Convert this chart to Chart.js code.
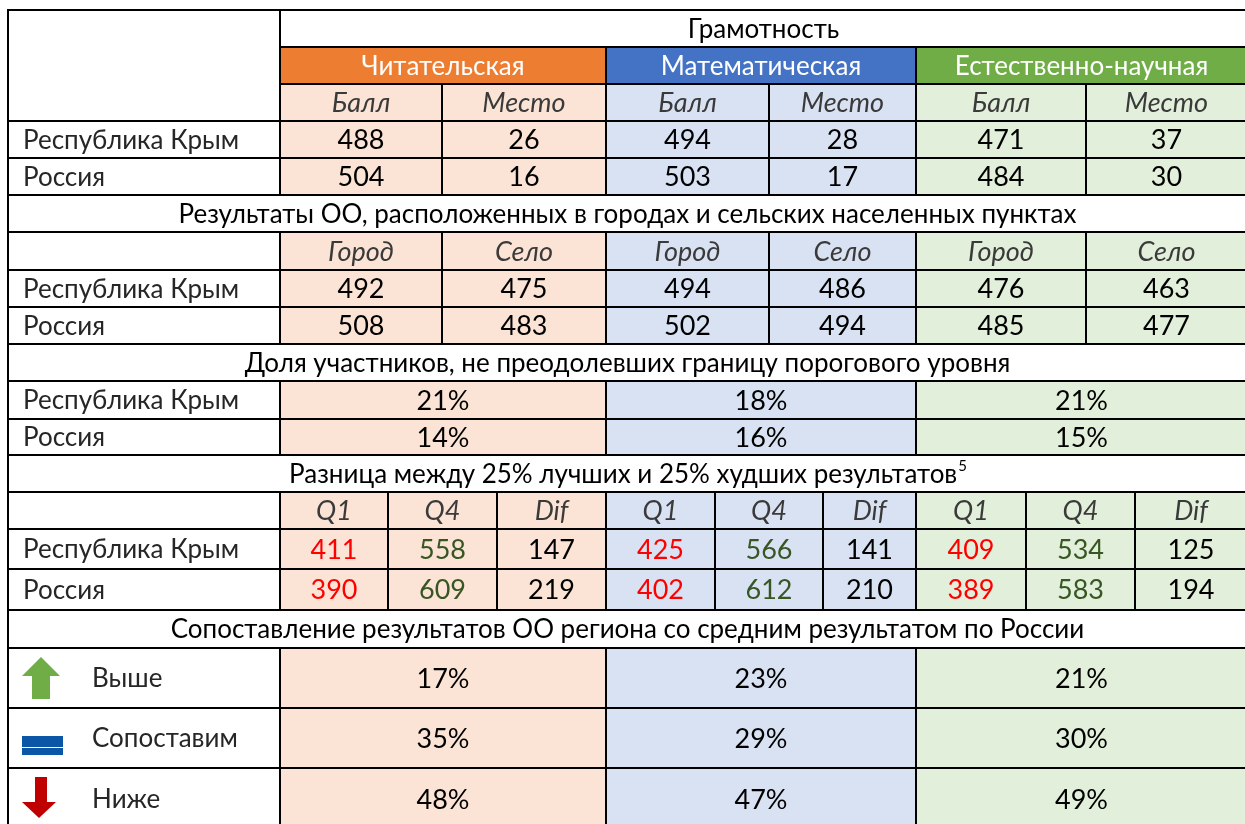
<!DOCTYPE html>
<html lang="ru">
<head>
<meta charset="utf-8">
<script src="https://cdn.jsdelivr.net/npm/chart.js@4"></script>
<style>
html, body { margin: 0; padding: 0; background: #fff; }
#wrap { width: 1245px; height: 824px; position: relative; }
</style>
</head>
<body>
<div id="wrap"><canvas id="tableChart"></canvas></div>
<script>
// --- данные таблицы ---
const title = 'Грамотность';
const subjects = ['Читательская', 'Математическая', 'Естественно-научная'];
const regions = ['Республика Крым', 'Россия'];
const scoreCols = ['Балл', 'Место'];
const areaCols = ['Город', 'Село'];
const quartCols = ['Q1', 'Q4', 'Dif'];
const sections = [
    'Результаты ОО, расположенных в городах и сельских населенных пунктах',
    'Доля участников, не преодолевших границу порогового уровня',
    'Разница между 25% лучших и 25% худших результатов',
    'Сопоставление результатов ОО региона со средним результатом по России'
];
const footnote = '5';
// по регионам: [читательская, математическая, естественно-научная]
const score = [[488, 494, 471], [504, 503, 484]];
const place = [[26, 28, 37], [16, 17, 30]];
const city = [[492, 494, 476], [508, 502, 485]];
const village = [[475, 486, 463], [483, 494, 477]];
const belowLevel = [[21, 18, 21], [14, 16, 15]];
const q1 = [[411, 425, 409], [390, 402, 389]];
const q4 = [[558, 566, 534], [609, 612, 583]];
const dif = [[147, 141, 125], [219, 210, 194]];
const compareCats = ['Выше', 'Сопоставим', 'Ниже'];
const compare = [[17, 23, 21], [35, 29, 30], [48, 47, 49]];

// --- разметка (сетка таблицы) ---
const left = 8, labelRight = 280;
const subjX = [280, 606, 916, 1247];
const pairX = [442, 769, 1086];
const tripleX = [[388, 497], [715, 823], [1026, 1135]];
const rowY = [10, 47, 84, 121, 158, 195, 232, 270, 307, 344, 381, 419, 455, 492, 529, 569, 610, 648, 708, 768, 830];

const headColors = ['#ED7D31', '#4472C4', '#70AD47'];
const lightColors = ['#FBE4D5', '#D9E2F3', '#E2EFDA'];
const FONT = 'Lato, "Open Sans", sans-serif';

// собираем ячейки
const cells = [];
function cell(x0, x1, r0, r1, fill, text, style) {
    cells.push({ x0, x1, y0: rowY[r0], y1: rowY[r1], fill, text, style: style || {} });
}
const num = { size: 27, color: '#000' };
const lbl = { size: 26, color: '#262626', align: 'left' };
const ital = { size: 27, color: '#3a3a3a', italic: true };
const head = { size: 26, color: '#000' };

// шапка
cell(left, labelRight, 0, 3, '#fff', '');
cell(labelRight, subjX[3], 0, 1, '#fff', title, head);
subjects.forEach((s, i) => {
    cell(subjX[i], subjX[i + 1], 1, 2, headColors[i], s, { size: 26, color: '#fff' });
    cell(subjX[i], pairX[i], 2, 3, lightColors[i], scoreCols[0], ital);
    cell(pairX[i], subjX[i + 1], 2, 3, lightColors[i], scoreCols[1], ital);
});
// балл и место
regions.forEach((r, k) => {
    cell(left, labelRight, 3 + k, 4 + k, '#fff', r, lbl);
    subjects.forEach((s, i) => {
        cell(subjX[i], pairX[i], 3 + k, 4 + k, lightColors[i], String(score[k][i]), num);
        cell(pairX[i], subjX[i + 1], 3 + k, 4 + k, lightColors[i], String(place[k][i]), num);
    });
});
// город / село
cell(left, subjX[3], 5, 6, '#fff', sections[0], head);
cell(left, labelRight, 6, 7, '#fff', '');
subjects.forEach((s, i) => {
    cell(subjX[i], pairX[i], 6, 7, lightColors[i], areaCols[0], ital);
    cell(pairX[i], subjX[i + 1], 6, 7, lightColors[i], areaCols[1], ital);
});
regions.forEach((r, k) => {
    cell(left, labelRight, 7 + k, 8 + k, '#fff', r, lbl);
    subjects.forEach((s, i) => {
        cell(subjX[i], pairX[i], 7 + k, 8 + k, lightColors[i], String(city[k][i]), num);
        cell(pairX[i], subjX[i + 1], 7 + k, 8 + k, lightColors[i], String(village[k][i]), num);
    });
});
// доля ниже порога
cell(left, subjX[3], 9, 10, '#fff', sections[1], head);
regions.forEach((r, k) => {
    cell(left, labelRight, 10 + k, 11 + k, '#fff', r, lbl);
    subjects.forEach((s, i) => {
        cell(subjX[i], subjX[i + 1], 10 + k, 11 + k, lightColors[i], belowLevel[k][i] + '%', num);
    });
});
// квартили
cell(left, subjX[3], 12, 13, '#fff', sections[2], Object.assign({ sup: footnote }, head));
cell(left, labelRight, 13, 14, '#fff', '');
subjects.forEach((s, i) => {
    const xs = [subjX[i], tripleX[i][0], tripleX[i][1], subjX[i + 1]];
    quartCols.forEach((q, j) => cell(xs[j], xs[j + 1], 13, 14, lightColors[i], q, ital));
});
regions.forEach((r, k) => {
    cell(left, labelRight, 14 + k, 15 + k, '#fff', r, lbl);
    subjects.forEach((s, i) => {
        const xs = [subjX[i], tripleX[i][0], tripleX[i][1], subjX[i + 1]];
        cell(xs[0], xs[1], 14 + k, 15 + k, lightColors[i], String(q1[k][i]), { size: 27, color: '#FF0000' });
        cell(xs[1], xs[2], 14 + k, 15 + k, lightColors[i], String(q4[k][i]), { size: 27, color: '#375623' });
        cell(xs[2], xs[3], 14 + k, 15 + k, lightColors[i], String(dif[k][i]), num);
    });
});
// сопоставление
cell(left, subjX[3], 16, 17, '#fff', sections[3], head);
compareCats.forEach((c, k) => {
    cell(left, labelRight, 17 + k, 18 + k, '#fff', c, Object.assign({ icon: k, indent: 69 }, lbl));
    subjects.forEach((s, i) => {
        cell(subjX[i], subjX[i + 1], 17 + k, 18 + k, lightColors[i], compare[k][i] + '%', num);
    });
});

function drawIcon(ctx, kind, px, py, x0, yMid) {
    ctx.save();
    if (kind === 0) {
        ctx.fillStyle = '#70AD47';
        ctx.beginPath();
        ctx.moveTo(px(x0 + 14), py(yMid - 21));
        ctx.lineTo(px(x0 + 33), py(yMid - 2));
        ctx.lineTo(px(x0 + 23), py(yMid - 2));
        ctx.lineTo(px(x0 + 23), py(yMid + 21));
        ctx.lineTo(px(x0 + 5), py(yMid + 21));
        ctx.lineTo(px(x0 + 5), py(yMid - 2));
        ctx.lineTo(px(x0 - 5), py(yMid - 2));
        ctx.closePath();
        ctx.fill();
    } else if (kind === 1) {
        ctx.fillStyle = '#0B56A6';
        ctx.fillRect(px(x0 - 5), py(yMid - 2), px(x0 + 36) - px(x0 - 5), py(yMid + 9) - py(yMid - 2));
        ctx.fillRect(px(x0 - 5), py(yMid + 10), px(x0 + 36) - px(x0 - 5), py(yMid + 17) - py(yMid + 10));
    } else {
        ctx.fillStyle = '#C00000';
        ctx.beginPath();
        ctx.moveTo(px(x0 + 8), py(yMid - 22));
        ctx.lineTo(px(x0 + 20), py(yMid - 22));
        ctx.lineTo(px(x0 + 20), py(yMid + 3));
        ctx.lineTo(px(x0 + 29), py(yMid + 3));
        ctx.lineTo(px(x0 + 12), py(yMid + 19));
        ctx.lineTo(px(x0 - 5), py(yMid + 3));
        ctx.lineTo(px(x0 + 8), py(yMid + 3));
        ctx.closePath();
        ctx.fill();
    }
    ctx.restore();
}

// плагин: рисует ячейки через шкалы графика
const tablePlugin = {
    id: 'tablePlugin',
    afterDraw(chart) {
        const ctx = chart.ctx;
        const sx = chart.scales.x, sy = chart.scales.y;
        const px = v => sx.getPixelForValue(v);
        const py = v => sy.getPixelForValue(v);
        ctx.save();
        cells.forEach(c => {
            ctx.fillStyle = c.fill;
            ctx.fillRect(px(c.x0), py(c.y0), px(c.x1) - px(c.x0), py(c.y1) - py(c.y0));
        });
        ctx.strokeStyle = '#000';
        ctx.lineWidth = 2;
        cells.forEach(c => {
            ctx.strokeRect(px(c.x0), py(c.y0), px(c.x1) - px(c.x0), py(c.y1) - py(c.y0));
        });
        cells.forEach(c => {
            if (!c.text) return;
            const st = c.style;
            const yMid = (c.y0 + c.y1) / 2;
            ctx.font = (st.italic ? 'italic ' : '') + (st.weight || 'normal') + ' ' + st.size + 'px ' + FONT;
            ctx.fillStyle = st.color;
            ctx.textBaseline = 'middle';
            if (st.icon !== undefined) drawIcon(ctx, st.icon, px, py, 27, yMid);
            if (st.align === 'left') {
                ctx.textAlign = 'left';
                ctx.fillText(c.text, px(c.x0 + 15 + (st.indent || 0)), py(yMid + 1));
            } else if (st.sup) {
                const w = ctx.measureText(c.text).width;
                ctx.font = 'normal 15px ' + FONT;
                const ws = ctx.measureText(st.sup).width;
                const start = px((c.x0 + c.x1) / 2) - (w + ws) / 2;
                ctx.textAlign = 'left';
                ctx.fillText(st.sup, start + w + 1, py(yMid - 7));
                ctx.font = 'normal ' + st.size + 'px ' + FONT;
                ctx.fillText(c.text, start, py(yMid + 1));
            } else {
                ctx.textAlign = 'center';
                ctx.fillText(c.text, px((c.x0 + c.x1) / 2), py(yMid + 1));
            }
        });
        ctx.restore();
    }
};

new Chart(document.getElementById('tableChart'), {
    type: 'scatter',
    data: { datasets: [] },
    options: {
        responsive: true,
        maintainAspectRatio: false,
        animation: false,
        layout: { padding: 0 },
        plugins: { legend: { display: false }, tooltip: { enabled: false } },
        scales: {
            x: { type: 'linear', min: 0, max: 1245, display: false },
            y: { type: 'linear', min: 0, max: 824, reverse: true, display: false }
        }
    },
    plugins: [tablePlugin]
});
</script>
</body>
</html>
